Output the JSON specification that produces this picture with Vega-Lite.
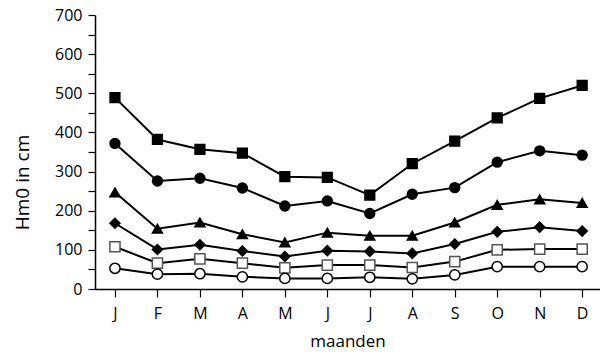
{
  "$schema": "https://vega.github.io/schema/vega-lite/v6.json",
  "width": 505,
  "height": 274,
  "autosize": {"type": "none"},
  "padding": {"left": 95, "top": 15, "right": 0, "bottom": 68},
  "config": {
    "view": {"stroke": null},
    "font": "Open Sans",
    "axis": {
      "grid": false,
      "domainColor": "black",
      "tickColor": "black",
      "labelColor": "black",
      "titleColor": "black",
      "labelFontSize": 16,
      "titleFontSize": 17,
      "titleFontWeight": "normal",
      "domainWidth": 1.5,
      "tickWidth": 1.2
    }
  },
  "datasets": {
    "hm": [
      {"maand": 1, "reeks": "s1", "hm": 489}, {"maand": 2, "reeks": "s1", "hm": 382}, {"maand": 3, "reeks": "s1", "hm": 357}, {"maand": 4, "reeks": "s1", "hm": 347}, {"maand": 5, "reeks": "s1", "hm": 287}, {"maand": 6, "reeks": "s1", "hm": 285}, {"maand": 7, "reeks": "s1", "hm": 240}, {"maand": 8, "reeks": "s1", "hm": 320}, {"maand": 9, "reeks": "s1", "hm": 378}, {"maand": 10, "reeks": "s1", "hm": 437}, {"maand": 11, "reeks": "s1", "hm": 487}, {"maand": 12, "reeks": "s1", "hm": 520},
      {"maand": 1, "reeks": "s2", "hm": 372}, {"maand": 2, "reeks": "s2", "hm": 276}, {"maand": 3, "reeks": "s2", "hm": 283}, {"maand": 4, "reeks": "s2", "hm": 258}, {"maand": 5, "reeks": "s2", "hm": 212}, {"maand": 6, "reeks": "s2", "hm": 225}, {"maand": 7, "reeks": "s2", "hm": 193}, {"maand": 8, "reeks": "s2", "hm": 242}, {"maand": 9, "reeks": "s2", "hm": 259}, {"maand": 10, "reeks": "s2", "hm": 324}, {"maand": 11, "reeks": "s2", "hm": 353}, {"maand": 12, "reeks": "s2", "hm": 342},
      {"maand": 1, "reeks": "s3", "hm": 247}, {"maand": 2, "reeks": "s3", "hm": 154}, {"maand": 3, "reeks": "s3", "hm": 170}, {"maand": 4, "reeks": "s3", "hm": 140}, {"maand": 5, "reeks": "s3", "hm": 119}, {"maand": 6, "reeks": "s3", "hm": 144}, {"maand": 7, "reeks": "s3", "hm": 136}, {"maand": 8, "reeks": "s3", "hm": 136}, {"maand": 9, "reeks": "s3", "hm": 170}, {"maand": 10, "reeks": "s3", "hm": 215}, {"maand": 11, "reeks": "s3", "hm": 229}, {"maand": 12, "reeks": "s3", "hm": 220},
      {"maand": 1, "reeks": "s4", "hm": 168}, {"maand": 2, "reeks": "s4", "hm": 101}, {"maand": 3, "reeks": "s4", "hm": 113}, {"maand": 4, "reeks": "s4", "hm": 97}, {"maand": 5, "reeks": "s4", "hm": 83}, {"maand": 6, "reeks": "s4", "hm": 98}, {"maand": 7, "reeks": "s4", "hm": 96}, {"maand": 8, "reeks": "s4", "hm": 91}, {"maand": 9, "reeks": "s4", "hm": 115}, {"maand": 10, "reeks": "s4", "hm": 146}, {"maand": 11, "reeks": "s4", "hm": 158}, {"maand": 12, "reeks": "s4", "hm": 148},
      {"maand": 1, "reeks": "s5", "hm": 108}, {"maand": 2, "reeks": "s5", "hm": 66}, {"maand": 3, "reeks": "s5", "hm": 77}, {"maand": 4, "reeks": "s5", "hm": 66}, {"maand": 5, "reeks": "s5", "hm": 54}, {"maand": 6, "reeks": "s5", "hm": 61}, {"maand": 7, "reeks": "s5", "hm": 61}, {"maand": 8, "reeks": "s5", "hm": 55}, {"maand": 9, "reeks": "s5", "hm": 70}, {"maand": 10, "reeks": "s5", "hm": 100}, {"maand": 11, "reeks": "s5", "hm": 102}, {"maand": 12, "reeks": "s5", "hm": 102},
      {"maand": 1, "reeks": "s6", "hm": 53}, {"maand": 2, "reeks": "s6", "hm": 38}, {"maand": 3, "reeks": "s6", "hm": 39}, {"maand": 4, "reeks": "s6", "hm": 31}, {"maand": 5, "reeks": "s6", "hm": 27}, {"maand": 6, "reeks": "s6", "hm": 27}, {"maand": 7, "reeks": "s6", "hm": 30}, {"maand": 8, "reeks": "s6", "hm": 26}, {"maand": 9, "reeks": "s6", "hm": 36}, {"maand": 10, "reeks": "s6", "hm": 57}, {"maand": 11, "reeks": "s6", "hm": 57}, {"maand": 12, "reeks": "s6", "hm": 57}
    ],
    "maanden": [
      {"maand": 1}, {"maand": 2}, {"maand": 3}, {"maand": 4}, {"maand": 5}, {"maand": 6},
      {"maand": 7}, {"maand": 8}, {"maand": 9}, {"maand": 10}, {"maand": 11}, {"maand": 12}
    ]
  },
  "encoding": {
    "x": {
      "field": "maand",
      "type": "quantitative",
      "scale": {"domain": [0.53, 12.42], "nice": false, "zero": false},
      "axis": {
        "values": [1, 2, 3, 4, 5, 6, 7, 8, 9, 10, 11, 12],
        "labelExpr": "['J','F','M','A','M','J','J','A','S','O','N','D'][datum.value - 1]",
        "title": "maanden",
        "tickSize": 8,
        "labelPadding": 8,
        "titlePadding": 12,
        "labelFlush": false
      }
    },
    "y": {
      "field": "hm",
      "type": "quantitative",
      "scale": {"domain": [0, 700], "nice": false},
      "axis": {
        "values": [0, 50, 100, 150, 200, 250, 300, 350, 400, 450, 500, 550, 600, 650, 700],
        "labelExpr": "datum.value % 100 == 0 ? datum.label : ''",
        "title": "Hm0 in cm",
        "titleFontSize": 19,
        "tickSize": 7,
        "labelPadding": 6,
        "titleX": -63,
        "titleY": 167,
        "labelFlush": false
      }
    }
  },
  "layer": [
    {
      "mark": {"type": "rule", "color": "black", "strokeWidth": 1.5},
      "encoding": {"x": {"value": 0}, "x2": {"value": 505}, "y": {"datum": 700}}
    },
    {
      "data": {"name": "maanden"},
      "mark": {"type": "rule", "color": "black", "strokeWidth": 1.2},
      "encoding": {"y": {"datum": 0}, "y2": {"datum": 20}}
    },
    {
      "data": {"name": "hm"},
      "mark": {"type": "line", "color": "black", "strokeWidth": 2},
      "encoding": {"detail": {"field": "reeks", "type": "nominal"}}
    },
    {
      "data": {"name": "hm"},
      "mark": {"type": "point", "filled": false, "opacity": 1, "strokeWidth": 1.5},
      "encoding": {
        "shape": {
          "field": "reeks", "type": "nominal",
          "scale": {"domain": ["s1", "s2", "s3", "s4", "s5", "s6"], "range": ["square", "circle", "triangle-up", "diamond", "square", "circle"]},
          "legend": null
        },
        "fill": {
          "field": "reeks", "type": "nominal",
          "scale": {"domain": ["s1", "s2", "s3", "s4", "s5", "s6"], "range": ["black", "black", "black", "black", "white", "white"]},
          "legend": null
        },
        "stroke": {
          "field": "reeks", "type": "nominal",
          "scale": {"domain": ["s1", "s2", "s3", "s4", "s5", "s6"], "range": ["black", "black", "black", "black", "#555555", "black"]},
          "legend": null
        },
        "size": {
          "field": "reeks", "type": "nominal",
          "scale": {"domain": ["s1", "s2", "s3", "s4", "s5", "s6"], "range": [95, 105, 130, 110, 95, 105]},
          "legend": null
        }
      }
    }
  ]
}
